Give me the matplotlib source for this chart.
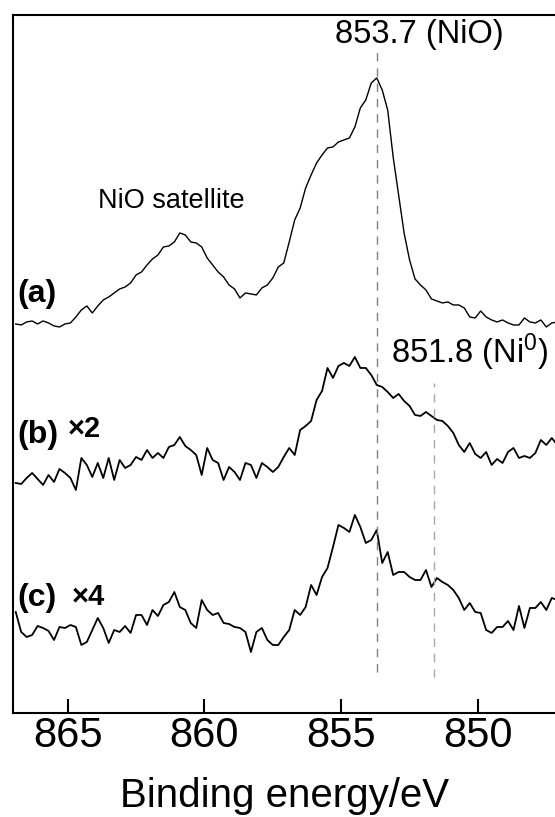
import numpy as np
import matplotlib
matplotlib.use("Agg")
import matplotlib.pyplot as plt

plt.rcParams['font.family'] = ['Liberation Sans', 'DejaVu Sans']
plt.rcParams['mathtext.fontset'] = 'custom'
plt.rcParams['mathtext.rm'] = 'Liberation Sans'

# Binding energy grid (eV), 0.2 eV step
energy = np.linspace(866.9, 847.1, 100)

# Ni 2p3/2 spectra, stacked, arbitrary units
spec_a = [389, 388, 391, 392, 389, 392, 390, 387, 386, 389,
          390, 396, 403, 407, 400, 407, 413, 416, 420, 424,
          426, 430, 438, 441, 448, 454, 458, 466, 467, 471,
          480, 478, 471, 470, 466, 455, 448, 441, 436, 428,
          424, 415, 420, 419, 418, 425, 428, 435, 446, 450,
          471, 493, 505, 525, 538, 550, 558, 565, 566, 571,
          573, 575, 586, 605, 613, 630, 635, 623, 603, 556,
          518, 480, 453, 434, 428, 423, 414, 412, 410, 411,
          408, 408, 405, 396, 395, 402, 396, 393, 391, 393,
          390, 388, 388, 395, 391, 390, 393, 386, 390, 391]

spec_b = [230, 229, 235, 240, 234, 228, 238, 231, 244, 240,
          235, 223, 255, 248, 236, 250, 235, 255, 233, 253,
          245, 248, 256, 253, 263, 255, 260, 255, 266, 268,
          276, 267, 263, 258, 238, 265, 253, 250, 233, 246,
          241, 233, 250, 248, 235, 250, 246, 241, 246, 256,
          265, 258, 283, 287, 292, 313, 322, 345, 335, 347,
          350, 347, 356, 345, 345, 338, 328, 326, 321, 315,
          319, 312, 307, 298, 297, 301, 297, 293, 292, 287,
          280, 268, 261, 270, 259, 255, 261, 248, 254, 250,
          261, 265, 255, 257, 255, 260, 273, 268, 275, 268]

spec_c = [101, 81, 76, 78, 87, 85, 82, 73, 86, 85,
          88, 86, 68, 71, 83, 95, 85, 70, 83, 81,
          87, 80, 98, 98, 88, 103, 97, 108, 111, 121,
          106, 103, 90, 85, 113, 103, 98, 100, 90, 89,
          86, 85, 81, 61, 81, 85, 73, 68, 68, 76,
          83, 103, 98, 106, 128, 118, 136, 145, 166, 188,
          185, 181, 198, 186, 170, 173, 183, 150, 161, 138,
          141, 141, 136, 133, 133, 143, 126, 135, 131, 128,
          123, 115, 103, 110, 101, 100, 83, 80, 86, 86,
          92, 83, 107, 85, 105, 105, 111, 103, 115, 113]

# reference peak positions (eV) and the extent of their guide lines
nio_peak = 853.7
ni0_peak = 851.6
nio_line = (41, 662)
ni0_line = (36, 330)

fig = plt.figure(figsize=(5.55, 8.17), dpi=100)
ax = fig.add_axes([0.0234, 0.1273, 0.9856, 0.8544])

# Plot spectra
ax.plot(energy, spec_a, color='black', linewidth=1.0)
ax.plot(energy, spec_b, color='black', linewidth=1.3)
ax.plot(energy, spec_c, color='black', linewidth=1.3)

# Guide lines for peak positions
ax.plot([nio_peak, nio_peak], nio_line, color='#808080', linewidth=1.0, dashes=(6, 5))
ax.plot([ni0_peak, ni0_peak], ni0_line, color='#a8a8a8', linewidth=1.0, dashes=(6, 5))

# Annotations
ax.text(852.15, 670, '853.7 (NiO)', fontsize=23.5, ha='center', va='baseline')
ax.text(850.3, 350, r'851.8 (Ni$\mathregular{^0}$)', fontsize=23.5, ha='center', va='baseline')
ax.text(861.2, 505, 'NiO satellite', fontsize=19.5, ha='center', va='baseline')

ax.text(866.85, 411, '(a)', fontsize=23, fontweight='bold', va='baseline')
ax.text(866.85, 270, '(b)', fontsize=23, fontweight='bold', va='baseline')
ax.text(865.0, 276, '×2', fontsize=21, fontweight='bold', va='baseline')
ax.text(866.85, 107, '(c)', fontsize=23, fontweight='bold', va='baseline')
ax.text(864.85, 108, '×4', fontsize=21, fontweight='bold', va='baseline')

ax.set_xlim(867, 847)
ax.set_ylim(0, 698)
ax.set_xticks([865, 860, 855, 850])
ax.set_yticks([])
ax.tick_params(axis='x', direction='in', length=10, width=1.5, pad=2, labelsize=30)
for side in ['left', 'top', 'bottom']:
    ax.spines[side].set_linewidth(1.5)
ax.spines['right'].set_visible(False)

fig.text(0.5135, (817 - 807) / 817, 'Binding energy/eV', fontsize=29, ha='center', va='baseline')

plt.savefig('out.png', dpi=100)
